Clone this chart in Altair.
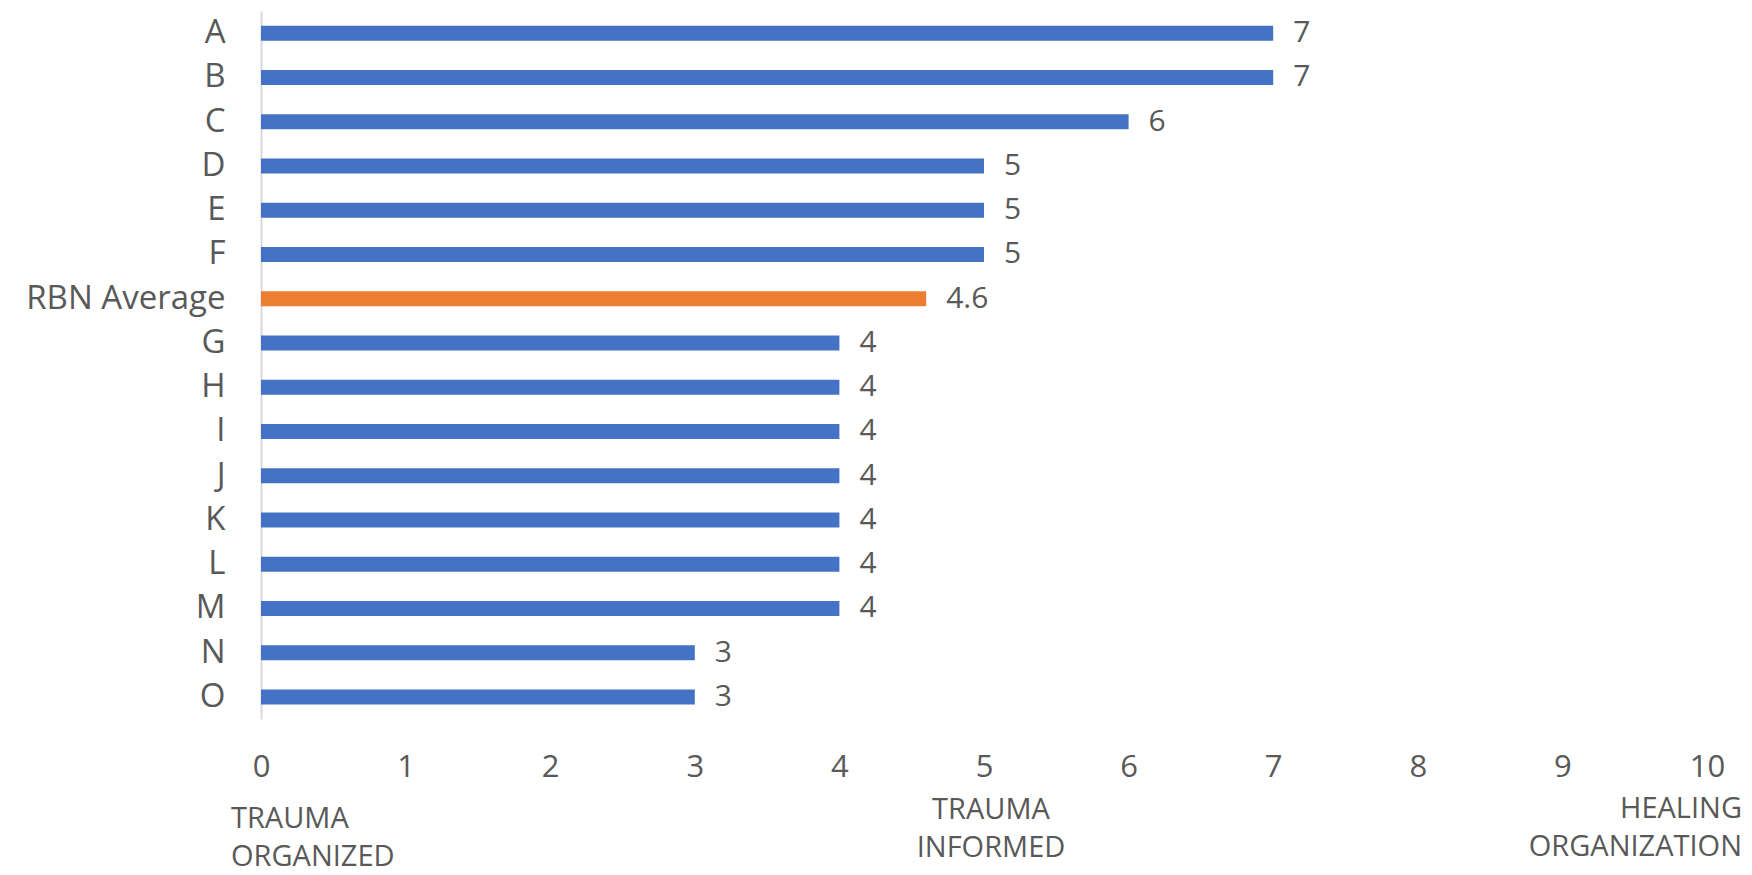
import altair as alt
import pandas as pd

categories = ["A", "B", "C", "D", "E", "F", "RBN Average", "G", "H", "I",
              "J", "K", "L", "M", "N", "O"]
values = [7, 7, 6, 5, 5, 5, 4.6, 4, 4, 4, 4, 4, 4, 4, 3, 3]
labels = ["7", "7", "6", "5", "5", "5", "4.6", "4", "4", "4", "4", "4", "4", "4", "3", "3"]
groups = ["Org"] * 6 + ["Average"] + ["Org"] * 9
x_ticks = list(range(0, 11))

anno_texts = [["TRAUMA", "ORGANIZED"], ["TRAUMA", "INFORMED"], ["HEALING", "ORGANIZATION"]]
anno_x = [0, 5, 10]
anno_align = ["left", "center", "right"]
anno_dx = [-30, 7, 35]
anno_y = [828, 819, 818]

FONT = "Open Sans"
GREY = "#595959"

df = pd.DataFrame({"cat": categories, "val": values, "lab": labels, "grp": groups})

y_enc = alt.Y("cat:N", sort=categories,
              scale=alt.Scale(paddingInner=0, paddingOuter=0),
              axis=alt.Axis(title=None, ticks=False, tickSize=0, labelPadding=36,
                            labelFontSize=33, labelFont=FONT, labelColor=GREY,
                            labelLimit=400,
                            domain=True, domainColor="#d9d9d9", domainWidth=2,
                            grid=False))
x_scale = alt.Scale(domain=[0, 10], nice=False)

bars = alt.Chart(df).mark_bar(size=15).encode(
    x=alt.X("val:Q", scale=x_scale,
            axis=alt.Axis(title=None, values=x_ticks, format="d", ticks=False,
                          tickSize=0, domain=False, grid=False, labelPadding=33,
                          labelFontSize=31, labelFont=FONT, labelColor=GREY,
                          labelFlush=False)),
    y=y_enc,
    color=alt.Color("grp:N", scale=alt.Scale(domain=["Org", "Average"],
                                             range=["#4472C4", "#ED7D31"]),
                    legend=None),
)

texts = alt.Chart(df).mark_text(align="left", baseline="middle", dx=20,
                                fontSize=30, font=FONT, color=GREY).encode(
    x=alt.X("val:Q", scale=x_scale),
    y=alt.Y("cat:N", sort=categories),
    text="lab:N",
)

layers = [bars, texts]
for t, xv, al, dx, yv in zip(anno_texts, anno_x, anno_align, anno_dx, anno_y):
    adf = pd.DataFrame({"x": [xv], "t": [t]})
    layers.append(
        alt.Chart(adf).mark_text(align=al, baseline="alphabetic", dx=dx,
                                 fontSize=29, font=FONT, color=GREY,
                                 lineHeight=38).encode(
            x=alt.X("x:Q", scale=x_scale),
            y=alt.value(yv - 11),
            text="t",
        )
    )

chart = alt.layer(*layers).properties(
    width=1446, height=708,
    background="white",
    autosize=alt.AutoSizeParams(type="none"),
    padding={"left": 253, "top": 3, "right": 37, "bottom": 156},
).configure_view(strokeWidth=0, stroke=None)

chart.save("out.html", embed_options={"renderer": "svg", "actions": False})
